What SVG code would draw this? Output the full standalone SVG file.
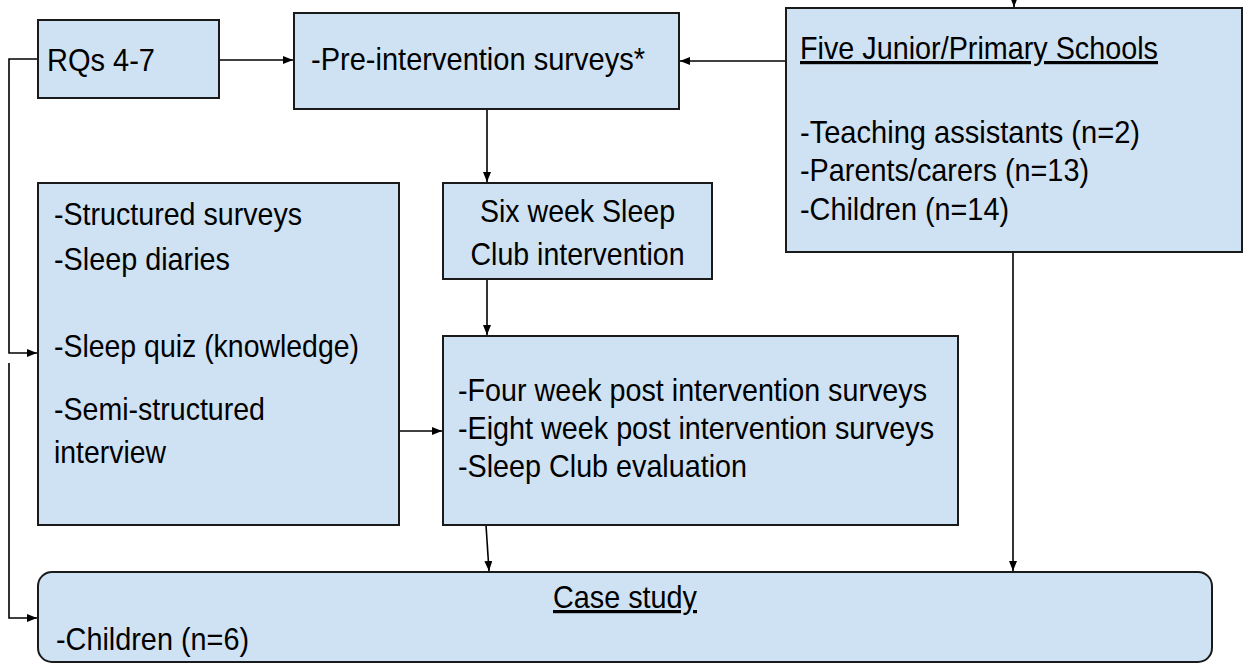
<svg xmlns="http://www.w3.org/2000/svg" width="1247" height="664" viewBox="0 0 1247 664">
<style>
.box{fill:#cfe2f3;stroke:#1a1a1a;stroke-width:2}
.t{font-family:"Liberation Sans Narrow","Liberation Sans",Arial,sans-serif;font-size:32px;fill:#000}
.u{text-decoration:underline}
.c{text-anchor:middle}
.ln{fill:none;stroke:#000;stroke-width:1.6}
</style>
<defs>
<marker id="ah" markerUnits="userSpaceOnUse" markerWidth="11" markerHeight="9" refX="10" refY="4" orient="auto">
<path d="M0,0 L10,4 L0,8 z" fill="#000"/>
</marker>
</defs>
<rect width="1247" height="664" fill="#fff"/>
<g id="connectors">
<path class="ln" d="M219,60 H293" marker-end="url(#ah)"/>
<path class="ln" d="M786,61 H680" marker-end="url(#ah)"/>
<path class="ln" d="M1014,-6 V7" marker-end="url(#ah)"/>
<path class="ln" d="M487,109 V182" marker-end="url(#ah)"/>
<path class="ln" d="M487,280 V335" marker-end="url(#ah)"/>
<path class="ln" d="M399,431 H442" marker-end="url(#ah)"/>
<path class="ln" d="M486,525 L489,571" marker-end="url(#ah)"/>
<path class="ln" d="M1013,252 V571" marker-end="url(#ah)"/>
<path class="ln" d="M38,59 H9 V353 H37" marker-end="url(#ah)"/>
<path class="ln" d="M9,363 V618 H37" marker-end="url(#ah)"/>
</g>
<g id="rqs">
<rect class="box" x="38" y="20" width="181" height="78"/>
<text class="t" x="47" y="71" textLength="108" lengthAdjust="spacingAndGlyphs">RQs 4-7</text>
</g>
<g id="pre">
<rect class="box" x="294" y="13" width="385" height="96"/>
<text class="t" x="311" y="70" textLength="334" lengthAdjust="spacingAndGlyphs">-Pre-intervention surveys*</text>
</g>
<g id="schools">
<rect class="box" x="786" y="8" width="456" height="244"/>
<text class="t u" x="800" y="59" textLength="358" lengthAdjust="spacingAndGlyphs">Five Junior/Primary Schools</text>
<text class="t" x="800" y="143" textLength="340" lengthAdjust="spacingAndGlyphs">-Teaching assistants (n=2)</text>
<text class="t" x="800" y="181" textLength="289" lengthAdjust="spacingAndGlyphs">-Parents/carers (n=13)</text>
<text class="t" x="800" y="220" textLength="209" lengthAdjust="spacingAndGlyphs">-Children (n=14)</text>
</g>
<g id="methods">
<rect class="box" x="38" y="183" width="361" height="342"/>
<text class="t" x="54" y="225" textLength="248" lengthAdjust="spacingAndGlyphs">-Structured surveys</text>
<text class="t" x="54" y="270" textLength="176" lengthAdjust="spacingAndGlyphs">-Sleep diaries</text>
<text class="t" x="54" y="357" textLength="305" lengthAdjust="spacingAndGlyphs">-Sleep quiz (knowledge)</text>
<text class="t" x="54" y="420" textLength="211" lengthAdjust="spacingAndGlyphs">-Semi-structured</text>
<text class="t" x="54" y="463" textLength="112" lengthAdjust="spacingAndGlyphs">interview</text>
</g>
<g id="sixweek">
<rect class="box" x="443" y="183" width="269" height="96"/>
<text class="t c" x="577.5" y="222" textLength="195" lengthAdjust="spacingAndGlyphs">Six week Sleep</text>
<text class="t c" x="577.5" y="265" textLength="214" lengthAdjust="spacingAndGlyphs">Club intervention</text>
</g>
<g id="post">
<rect class="box" x="443" y="336" width="515" height="189"/>
<text class="t" x="458" y="401" textLength="469" lengthAdjust="spacingAndGlyphs">-Four week post intervention surveys</text>
<text class="t" x="458" y="439" textLength="476" lengthAdjust="spacingAndGlyphs">-Eight week post intervention surveys</text>
<text class="t" x="458" y="477" textLength="289" lengthAdjust="spacingAndGlyphs">-Sleep Club evaluation</text>
</g>
<g id="casestudy">
<rect class="box" x="38" y="572" width="1174" height="90" rx="14" ry="14"/>
<text class="t c u" x="625" y="608" textLength="144" lengthAdjust="spacingAndGlyphs">Case study</text>
<text class="t" x="56" y="650" textLength="193" lengthAdjust="spacingAndGlyphs">-Children (n=6)</text>
</g>
</svg>
